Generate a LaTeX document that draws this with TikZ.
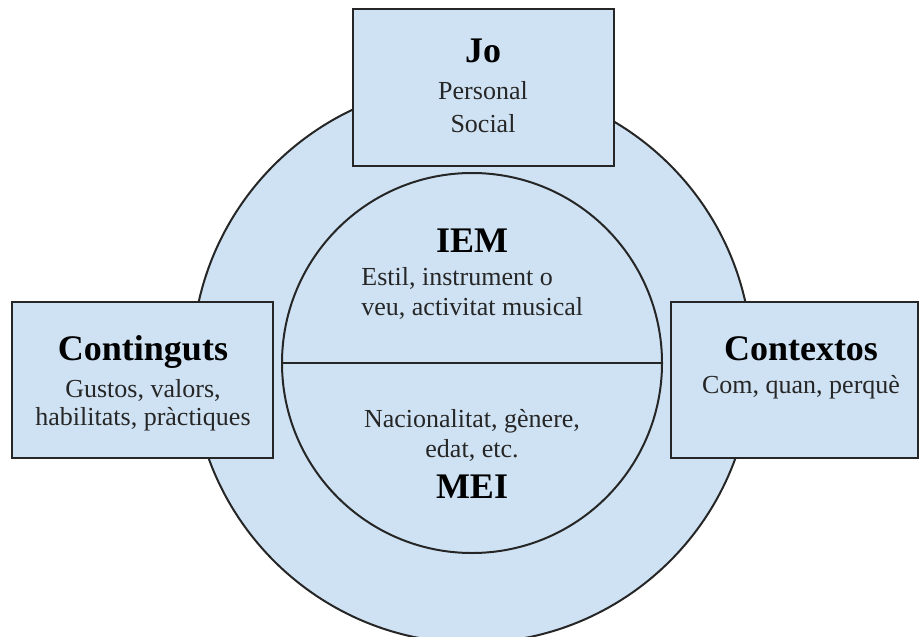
\documentclass[tikz,border=0pt]{standalone}
\usepackage{fontspec}
\setmainfont{Liberation Serif}
\usetikzlibrary{fit}
\definecolor{paleblue}{HTML}{CFE2F3}
\definecolor{edgegray}{HTML}{262626}
\tikzstyle{panel}=[draw=edgegray,fill=paleblue,line width=1pt,inner sep=0pt,outer sep=0pt]
\tikzstyle{headline}=[anchor=base,inner sep=0pt,font=\fontsize{18}{20}\selectfont\bfseries]
\tikzstyle{bodyline}=[anchor=base,inner sep=0pt,text=black!85,font=\fontsize{13}{15}\selectfont]

\begin{document}
\begin{tikzpicture}[x=0.5pt,y=-0.5pt]
  \useasboundingbox (0,0) rectangle (919,636);
  \clip (0,0) rectangle (919,636);
  % rings
  \node[panel,circle,minimum size=280pt] (outer) at (472,363) {};
  \node[panel,circle,minimum size=190pt] (inner) at (472,363) {};
  \draw[edgegray,line width=1pt] (inner.west) -- (inner.east);
  % the three boxes
  \node[panel,fit={(353,9) (614,166)}] (jo) {};
  \node[panel,fit={(12,302) (273,458)}] (continguts) {};
  \node[panel,fit={(671,302) (918,458)}] (contextos) {};
  % texts
  \node[headline] (jo-title) at (483,63) {Jo};
  \node[bodyline] (jo-a) at (483,100) {Personal};
  \node[bodyline] (jo-b) at (483,133) {Social};
  \node[headline] (iem-title) at (472,252) {IEM};
  \node[bodyline,anchor=base west] (iem-a) at (361,285) {Estil, instrument o};
  \node[bodyline,anchor=base west] (iem-b) at (361,315) {veu, activitat musical};
  \node[bodyline] (mei-a) at (472,427) {Nacionalitat, gènere,};
  \node[bodyline] (mei-b) at (472,457) {edat, etc.};
  \node[headline] (mei-title) at (472,498) {MEI};
  \node[headline] (cont-title) at (143,360) {Continguts};
  \node[bodyline] (cont-a) at (143,397) {Gustos, valors,};
  \node[bodyline] (cont-b) at (143,425) {habilitats, pràctiques};
  \node[headline] (ctx-title) at (801,360) {Contextos};
  \node[bodyline] (ctx-a) at (801,393) {Com, quan, perquè};
\end{tikzpicture}
\end{document}
